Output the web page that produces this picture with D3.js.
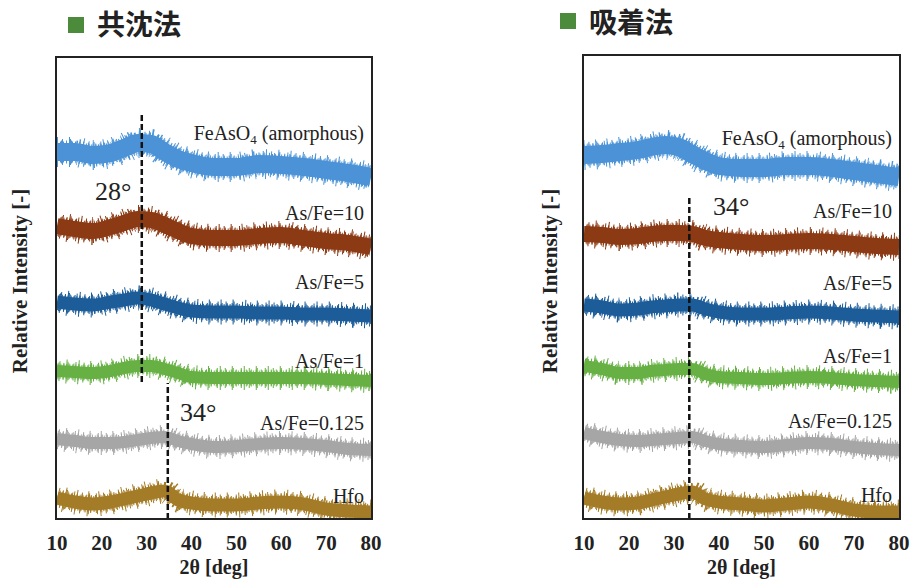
<!DOCTYPE html>
<html>
<head>
<meta charset="utf-8">
<script src="https://cdn.jsdelivr.net/npm/d3@7/dist/d3.min.js"></script>
<style>
  body { margin: 0; background: #fff; }
  svg { display: block; }
</style>
</head>
<body>
<div class="svg-container"></div>
<script>
// 2θ sample positions [deg]
const twoTheta = [10, 14, 18, 22, 25, 28, 31, 34, 37, 40, 45, 50, 55, 60, 65, 70, 75, 80];
const xTicks = [10, 20, 30, 40, 50, 60, 70, 80];

const seriesNames = ['FeAsO4 (amorphous)', 'As/Fe=10', 'As/Fe=5', 'As/Fe=1', 'As/Fe=0.125', 'Hfo'];
const seriesColours = ['#4b93d6', '#8b3a14', '#1b5c99', '#66b044', '#a6a6a6', '#a47b26'];

// 共沈法 - relative intensity (stacked, arbitrary units)
const copFeAsO4 = [73.4, 73.4, 72.8, 73.2, 74.2, 75.2, 75.0, 73.4, 72.0, 71.2, 70.4, 70.4, 71.0, 70.8, 70.4, 69.8, 69.2, 68.4];
const copAsFe10 = [58.6, 58.0, 57.6, 58.4, 59.2, 60.0, 59.8, 58.8, 57.6, 56.6, 56.2, 56.2, 56.6, 56.8, 56.2, 55.6, 55.2, 54.4];
const copAsFe5 = [43.4, 43.0, 42.8, 43.4, 43.8, 44.2, 43.8, 43.0, 42.2, 41.6, 41.4, 41.4, 41.2, 41.2, 41.0, 41.0, 40.8, 40.6];
const copAsFe1 = [29.6, 29.4, 29.2, 29.6, 30.2, 30.6, 30.6, 30.0, 29.2, 28.4, 28.2, 28.2, 28.2, 28.2, 28.2, 28.0, 27.8, 27.6];
const copAsFe0125 = [16.0, 15.6, 15.2, 15.2, 15.4, 15.8, 16.2, 16.4, 15.6, 15.0, 14.4, 14.6, 15.0, 15.2, 15.0, 14.6, 14.0, 13.8];
const copHfo = [4.2, 3.4, 3.0, 3.4, 4.0, 4.6, 5.2, 5.6, 3.8, 3.2, 2.8, 2.8, 3.2, 3.4, 3.0, 2.0, 1.6, 1.4];

// 吸着法 - relative intensity (stacked, arbitrary units)
const adsFeAsO4 = [72.8, 73.0, 73.4, 73.8, 74.4, 74.8, 74.4, 73.0, 71.6, 70.6, 70.2, 70.2, 70.6, 70.6, 70.2, 69.6, 69.0, 68.4];
const adsAsFe10 = [57.0, 56.8, 56.4, 56.6, 57.0, 57.2, 57.2, 57.0, 56.2, 55.8, 55.4, 55.2, 55.4, 55.6, 55.4, 55.0, 54.6, 54.4];
const adsAsFe5 = [42.8, 42.4, 41.8, 42.0, 42.4, 42.6, 42.8, 42.8, 42.0, 41.4, 41.0, 41.0, 41.2, 41.4, 41.2, 40.8, 40.6, 40.4];
const adsAsFe1 = [30.6, 30.0, 29.2, 29.2, 29.6, 29.8, 30.0, 30.0, 29.0, 28.4, 28.2, 28.0, 28.2, 28.4, 28.2, 27.8, 27.6, 27.4];
const adsAsFe0125 = [17.2, 16.4, 15.8, 15.6, 15.8, 16.0, 16.2, 16.4, 15.6, 15.0, 14.6, 14.4, 14.8, 15.2, 15.0, 14.4, 14.0, 13.8];
const adsHfo = [4.2, 3.4, 3.0, 3.2, 3.8, 4.4, 5.0, 5.4, 4.0, 3.4, 3.0, 2.6, 3.0, 3.4, 2.8, 1.8, 1.4, 1.4];

// dashed peak markers: position [deg], span of intensity, label
const copPeakPos = [28.9, 34.7];
const copPeakSpan = [[27.4, 80.8], [0, 27.2]];
const copPeakLabels = ['28°', '34°'];
const adsPeakPos = [33.4];
const adsPeakSpan = [[0, 64.8]];
const adsPeakLabels = ['34°'];

const width = 910;
const height = 582;
const serif = '"Liberation Serif", "Times New Roman", serif';

const svg = d3.select('.svg-container')
  .append('svg')
  .attr('width', width)
  .attr('height', height);

function renderPanel(cfg) {
  const x = d3.scaleLinear().domain([10, 80]).range([cfg.left, cfg.right]);
  const y = d3.scaleLinear().domain([0, 92.4]).range([519, 57]);

  const g = svg.append('g');

  // title with green marker
  g.append('rect')
    .attr('x', cfg.titleX)
    .attr('y', cfg.squareY)
    .attr('width', 16)
    .attr('height', 16)
    .attr('fill', '#4c8a3c');
  g.append('text')
    .attr('x', cfg.titleX + 29)
    .attr('y', cfg.titleY)
    .attr('font-family', '"Noto Sans CJK JP", sans-serif')
    .attr('font-weight', 700)
    .attr('font-size', 28)
    .attr('fill', '#222')
    .text(cfg.title);

  // clip the traces to the frame
  g.append('clipPath')
    .attr('id', cfg.id)
    .append('rect')
    .attr('x', cfg.left - 1)
    .attr('y', cfg.top)
    .attr('width', cfg.right - cfg.left + 2)
    .attr('height', 519 - cfg.top);

  const line = d3.line()
    .x((d, i) => x(twoTheta[i]))
    .y(d => y(d))
    .curve(d3.curveMonotoneX);

  const traces = g.append('g').attr('clip-path', `url(#${cfg.id})`);
  const widths = [18, 16, 13, 12, 12, 13];

  cfg.series.forEach((vals, i) => {
    const w = widths[i];
    // noisy-looking fringe: overlaid dashed strokes
    [[w + 12, '1 11', 0], [w + 8, '1 7', 3], [w + 5, '1 4', 1], [w + 3, '1 2', 0]].forEach(([sw, dash, off]) => {
      traces.append('path')
        .attr('d', line(vals))
        .attr('fill', 'none')
        .attr('stroke', seriesColours[i])
        .attr('stroke-width', sw)
        .attr('stroke-dasharray', dash)
        .attr('stroke-dashoffset', off + i);
    });
    traces.append('path')
      .attr('d', line(vals))
      .attr('fill', 'none')
      .attr('stroke', seriesColours[i])
      .attr('stroke-width', w);
  });

  // dashed peak lines
  cfg.peaks.forEach((p, i) => {
    g.append('line')
      .attr('x1', x(p))
      .attr('x2', x(p))
      .attr('y1', y(cfg.spans[i][0]))
      .attr('y2', y(cfg.spans[i][1]))
      .attr('stroke', '#111')
      .attr('stroke-width', 2.5)
      .attr('stroke-dasharray', '6 3');
  });

  cfg.peakLabels.forEach((t, i) => {
    g.append('text')
      .attr('x', cfg.peakLabelPos[i][0])
      .attr('y', cfg.peakLabelPos[i][1])
      .attr('font-family', serif)
      .attr('font-size', 26)
      .attr('fill', '#222')
      .text(t);
  });

  // series labels
  seriesNames.forEach((name, i) => {
    const t = g.append('text')
      .attr('x', cfg.right - 7)
      .attr('y', cfg.labelY[i])
      .attr('text-anchor', 'end')
      .attr('font-family', serif)
      .attr('font-size', 20)
      .attr('fill', '#222');
    if (i === 0) {
      t.append('tspan').text('FeAsO');
      t.append('tspan').attr('font-size', 13).attr('dy', 4).text('4');
      t.append('tspan').attr('dy', -4).text(' (amorphous)');
    } else {
      t.text(name);
    }
  });

  // frame
  g.append('rect')
    .attr('x', cfg.left - 1)
    .attr('y', cfg.top)
    .attr('width', cfg.right - cfg.left + 2)
    .attr('height', 519 - cfg.top)
    .attr('fill', 'none')
    .attr('stroke', '#222')
    .attr('stroke-width', 2);

  // x axis tick labels
  g.selectAll('.tick-label')
    .data(xTicks)
    .enter()
    .append('text')
    .attr('x', d => x(d))
    .attr('y', 550)
    .attr('text-anchor', 'middle')
    .attr('font-family', serif)
    .attr('font-weight', 700)
    .attr('font-size', 21)
    .attr('fill', '#222')
    .text(d => d);

  g.append('text')
    .attr('x', (cfg.left + cfg.right) / 2)
    .attr('y', 574)
    .attr('text-anchor', 'middle')
    .attr('font-family', serif)
    .attr('font-weight', 700)
    .attr('font-size', 20)
    .attr('fill', '#222')
    .text('2θ [deg]');

  g.append('text')
    .attr('transform', `translate(${cfg.yLabelX},${281}) rotate(-90)`)
    .attr('text-anchor', 'middle')
    .attr('dominant-baseline', 'central')
    .attr('font-family', serif)
    .attr('font-weight', 700)
    .attr('font-size', 21)
    .attr('fill', '#222')
    .text('Relative Intensity [-]');
}

renderPanel({
  id: 'clip-cop',
  title: '共沈法',
  left: 57, right: 371, top: 57, titleX: 68, titleY: 35, squareY: 17,
  series: [copFeAsO4, copAsFe10, copAsFe5, copAsFe1, copAsFe0125, copHfo],
  peaks: copPeakPos, spans: copPeakSpan, peakLabels: copPeakLabels,
  peakLabelPos: [[95, 200], [180, 421]],
  labelY: [140, 220, 289, 368, 430, 503],
  yLabelX: 20
});

renderPanel({
  id: 'clip-ads',
  title: '吸着法',
  left: 584, right: 899, top: 55, titleX: 560, titleY: 33, squareY: 13,
  series: [adsFeAsO4, adsAsFe10, adsAsFe5, adsAsFe1, adsAsFe0125, adsHfo],
  peaks: adsPeakPos, spans: adsPeakSpan, peakLabels: adsPeakLabels,
  peakLabelPos: [[713, 215]],
  labelY: [145, 218, 290, 363, 428, 502],
  yLabelX: 550
});
</script>
</body>
</html>
